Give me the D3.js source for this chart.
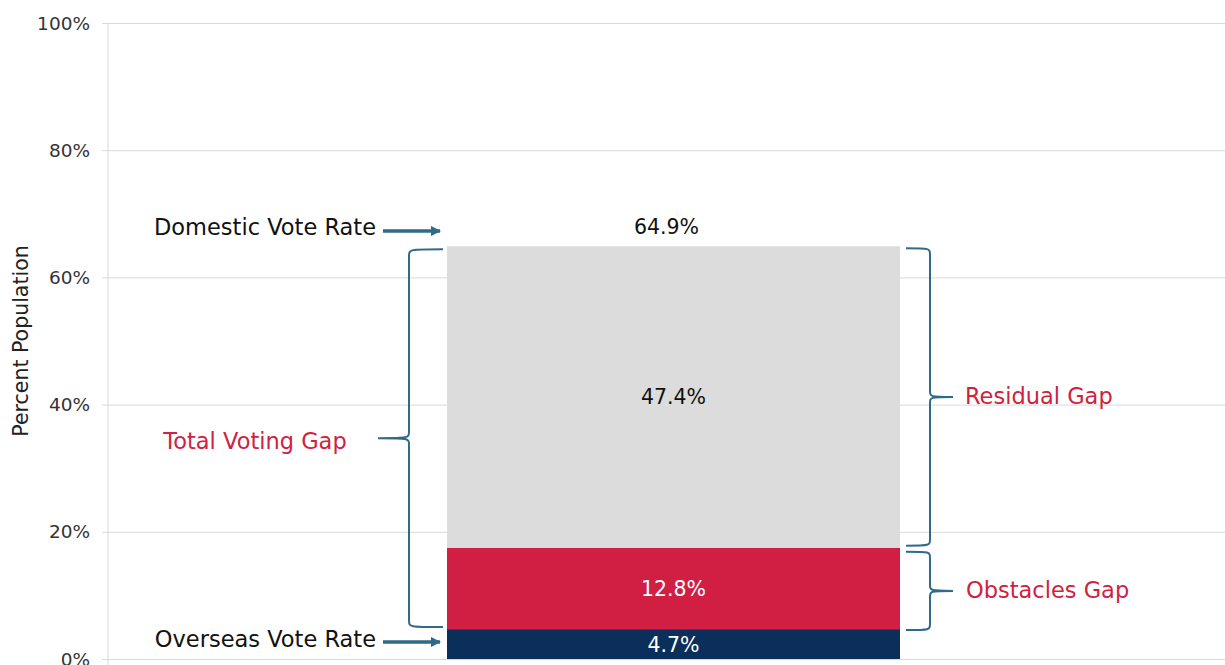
<!DOCTYPE html>
<html><head><meta charset="utf-8">
<script src="https://cdn.jsdelivr.net/npm/d3@7"></script>
<style>body{margin:0;background:#fff}svg{display:block}text{font-family:"DejaVu Sans",sans-serif}</style>
</head><body><svg id="c" width="1225" height="665"></svg>
<script>
const categories = ["Overseas Vote Rate", "Obstacles Gap", "Residual Gap"];
const values = [4.7, 12.8, 47.4];
const segColors = ["#0B2F5B", "#D01F42", "#DCDCDC"];
const labelColors = ["#ffffff", "#ffffff", "#111111"];
const domesticRate = 64.9;
const yTicks = [0, 20, 40, 60, 80, 100];

const svg = d3.select("#c");
const W = 1225, H = 665;
const m = {left: 108, right: 0, top: 23, bottom: 6};
const y = d3.scaleLinear().domain([0, 100]).range([H - m.bottom, m.top]);
const barX0 = 447, barX1 = 900;
const xb = d3.scaleLinear().domain([0, 1]).range([barX0, barX1]);

// gridlines
const ax = d3.axisLeft(y).tickValues(yTicks).tickFormat(d => d + "%").tickSize(-(W - m.left));
const g = svg.append("g").attr("transform", `translate(${m.left},0)`).call(ax);
g.select(".domain").remove();
g.selectAll(".tick line").attr("stroke", "#d9d9d9").attr("x1", -6);
g.selectAll(".tick text").attr("font-size", 18.5).attr("fill", "#333").attr("x", -18).attr("dy", "0.33em");
// vertical axis line
svg.append("line").attr("x1", m.left).attr("x2", m.left).attr("y1", y(100)).attr("y2", H).attr("stroke", "#d9d9d9");

// stacked segments
let cum = 0;
const segs = values.map((v, i) => { const s = {v, y0: cum, y1: cum + v, i}; cum += v; return s; });
svg.selectAll("rect.seg").data(segs).join("rect").attr("class", "seg")
  .attr("x", xb(0)).attr("width", xb(1) - xb(0))
  .attr("y", d => y(d.y1)).attr("height", d => y(d.y0) - y(d.y1))
  .attr("fill", d => segColors[d.i]);
const vSize = 20.5;
svg.selectAll("text.seg").data(segs).join("text").attr("class", "seg")
  .attr("x", (xb(0) + xb(1)) / 2)
  .attr("y", d => d.i === 0 ? y(d.y0) - 14 : (y(d.y0) + y(d.y1)) / 2)
  .attr("dy", "0.35em").attr("text-anchor", "middle").attr("font-size", vSize)
  .attr("fill", d => labelColors[d.i]).text(d => d.v.toFixed(1) + "%");
svg.append("text").attr("x", (xb(0) + xb(1)) / 2 - 7).attr("y", y(domesticRate) - 19).attr("dy", "0.35em")
  .attr("text-anchor", "middle").attr("font-size", vSize).attr("fill", "#111").text(domesticRate.toFixed(1) + "%");

// y label
svg.append("text").attr("transform", `translate(28,${(y(0) + y(100)) / 2}) rotate(-90)`)
  .attr("text-anchor", "middle").attr("font-size", 20.5).attr("fill", "#222").text("Percent Population");

const braceColor = "#2F6A88";
function brace(xEnd, xMid, xTip, yTop, yBot) {
  const yc = (yTop + yBot) / 2;
  const r = 7;
  const p = d3.path();
  p.moveTo(xEnd, yTop);
  p.bezierCurveTo(xMid, yTop, xMid, yTop, xMid, yTop + r);
  p.lineTo(xMid, yc - r);
  p.bezierCurveTo(xMid, yc, xMid, yc, xTip, yc);
  p.bezierCurveTo(xMid, yc, xMid, yc, xMid, yc + r);
  p.lineTo(xMid, yBot - r);
  p.bezierCurveTo(xMid, yBot, xMid, yBot, xEnd, yBot);
  return p.toString();
}
svg.append("path").attr("d", brace(443, 409, 378, y(domesticRate) + 3, y(values[0]) - 2))
  .attr("fill", "none").attr("stroke", braceColor).attr("stroke-width", 2);
svg.append("path").attr("d", brace(906, 930, 953, y(domesticRate) + 2, y(values[0] + values[1]) - 2))
  .attr("fill", "none").attr("stroke", braceColor).attr("stroke-width", 2);
svg.append("path").attr("d", brace(906, 930, 953, y(values[0] + values[1]) + 4, y(values[0]) + 1))
  .attr("fill", "none").attr("stroke", braceColor).attr("stroke-width", 2);

const red = "#D0223F";
const aSize = 22.5;
svg.append("text").attr("x", 255).attr("y", (y(domesticRate) + y(values[0])) / 2 + 3).attr("dy", "0.35em")
  .attr("text-anchor", "middle").attr("font-size", aSize).attr("fill", red).text("Total Voting Gap");
svg.append("text").attr("x", 965).attr("y", (y(domesticRate) + y(values[0] + values[1])) / 2 - 1).attr("dy", "0.35em")
  .attr("font-size", aSize).attr("fill", red).text(categories[2]);
svg.append("text").attr("x", 966).attr("y", (y(values[0] + values[1]) + y(values[0])) / 2 + 2).attr("dy", "0.35em")
  .attr("font-size", aSize).attr("fill", red).text(categories[1]);

// arrows
const defs = svg.append("defs");
defs.append("marker").attr("id", "ah").attr("viewBox", "0 0 10 10").attr("refX", 9).attr("refY", 5)
  .attr("markerWidth", 3).attr("markerHeight", 3).attr("orient", "auto")
  .append("path").attr("d", "M0,0 L10,5 L0,10 Z").attr("fill", braceColor);
function arrow(yy) {
  svg.append("line").attr("x1", 383).attr("x2", 440).attr("y1", yy).attr("y2", yy)
    .attr("stroke", braceColor).attr("stroke-width", 3.5).attr("marker-end", "url(#ah)");
}
arrow(231); arrow(642);
svg.append("text").attr("x", 376).attr("y", 227).attr("dy", "0.35em").attr("text-anchor", "end")
  .attr("font-size", aSize).attr("fill", "#111").text("Domestic Vote Rate");
svg.append("text").attr("x", 376).attr("y", 639).attr("dy", "0.35em").attr("text-anchor", "end")
  .attr("font-size", aSize).attr("fill", "#111").text(categories[0]);
</script></body></html>
